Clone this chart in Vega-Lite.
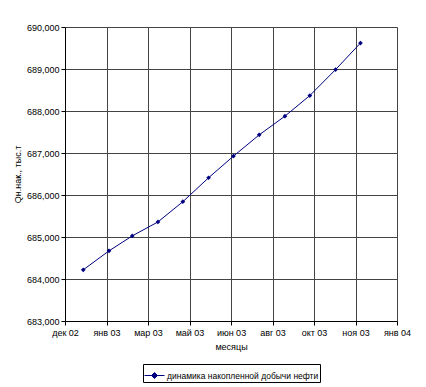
{
  "$schema": "https://vega.github.io/schema/vega-lite/v6.json",
  "width": 332,
  "height": 294,
  "autosize": {"type": "none"},
  "padding": {"left": 65, "top": 27, "right": 29, "bottom": 66},
  "background": "white",
  "config": {
    "font": "Liberation Sans",
    "view": {"stroke": null},
    "axis": {
      "labelFont": "Liberation Sans",
      "titleFont": "Liberation Sans",
      "labelFontSize": 9,
      "titleFontSize": 9,
      "titleFontWeight": "normal",
      "labelColor": "#000",
      "titleColor": "#000",
      "domainColor": "#000",
      "tickColor": "#000",
      "gridColor": "#444",
      "gridOpacity": 1,
      "tickSize": 4
    }
  },
  "data": {
    "values": [
      {"date": "2003-01-01", "q": 684219, "series": "динамика накопленной добычи нефти"},
      {"date": "2003-02-01", "q": 684670, "series": "динамика накопленной добычи нефти"},
      {"date": "2003-03-01", "q": 685026, "series": "динамика накопленной добычи нефти"},
      {"date": "2003-04-01", "q": 685359, "series": "динамика накопленной добычи нефти"},
      {"date": "2003-05-01", "q": 685841, "series": "динамика накопленной добычи нефти"},
      {"date": "2003-06-01", "q": 686411, "series": "динамика накопленной добычи нефти"},
      {"date": "2003-07-01", "q": 686926, "series": "динамика накопленной добычи нефти"},
      {"date": "2003-08-01", "q": 687432, "series": "динамика накопленной добычи нефти"},
      {"date": "2003-09-01", "q": 687877, "series": "динамика накопленной добычи нефти"},
      {"date": "2003-10-01", "q": 688368, "series": "динамика накопленной добычи нефти"},
      {"date": "2003-11-01", "q": 688986, "series": "динамика накопленной добычи нефти"},
      {"date": "2003-12-01", "q": 689618, "series": "динамика накопленной добычи нефти"}
    ]
  },
  "encoding": {
    "x": {
      "field": "date",
      "type": "temporal",
      "scale": {
        "type": "utc",
        "domain": [
          {"year": 2002, "month": 12, "date": 10, "utc": true},
          {"year": 2004, "month": 1, "date": 14, "utc": true}
        ]
      },
      "axis": {
        "title": "месяцы",
        "values": [
          {"year": 2002, "month": 12, "date": 10, "utc": true},
          {"year": 2003, "month": 1, "date": 29, "utc": true},
          {"year": 2003, "month": 3, "date": 20, "utc": true},
          {"year": 2003, "month": 5, "date": 9, "utc": true},
          {"year": 2003, "month": 6, "date": 28, "utc": true},
          {"year": 2003, "month": 8, "date": 17, "utc": true},
          {"year": 2003, "month": 10, "date": 6, "utc": true},
          {"year": 2003, "month": 11, "date": 25, "utc": true},
          {"year": 2004, "month": 1, "date": 14, "utc": true}
        ],
        "labelExpr": "['янв','фев','мар','апр','май','июн','июл','авг','сен','окт','ноя','дек'][utcmonth(datum.value)] + ' ' + utcFormat(datum.value, '%y')",
        "labelPadding": 3,
        "titlePadding": 5,
        "grid": true,
        "labelFlush": false,
        "labelOverlap": false
      }
    },
    "y": {
      "field": "q",
      "type": "quantitative",
      "scale": {"domain": [683000, 690000], "nice": false, "zero": false},
      "axis": {
        "title": "Qн.нак., тыс.т",
        "values": [683000, 684000, 685000, 686000, 687000, 688000, 689000, 690000],
        "format": ",d",
        "labelPadding": 2,
        "titlePadding": 4,
        "labelFlush": false,
        "grid": true
      }
    }
  },
  "layer": [
    {
      "mark": {"type": "line", "strokeWidth": 1},
      "encoding": {
        "color": {
          "field": "series",
          "type": "nominal",
          "scale": {"range": ["#000080"]},
          "legend": {
            "title": null,
            "orient": "none",
            "legendX": 78,
            "legendY": 337,
            "direction": "horizontal",
            "strokeColor": "#000",
            "padding": 1,
            "labelFont": "Liberation Sans",
            "labelFontSize": 8.5,
            "labelColor": "#000",
            "labelLimit": 400,
            "symbolType": "M-1,0H1M0,-0.3L0.3,0L0,0.3L-0.3,0Z",
            "symbolSize": 400,
            "symbolStrokeWidth": 1,
            "symbolFillColor": "#000080",
            "symbolStrokeColor": "#000080",
            "symbolOffset": 0,
            "labelOffset": 2
          }
        }
      }
    },
    {
      "mark": {"type": "point", "shape": "diamond", "filled": true, "size": 22, "color": "#000080", "opacity": 1}
    }
  ]
}
